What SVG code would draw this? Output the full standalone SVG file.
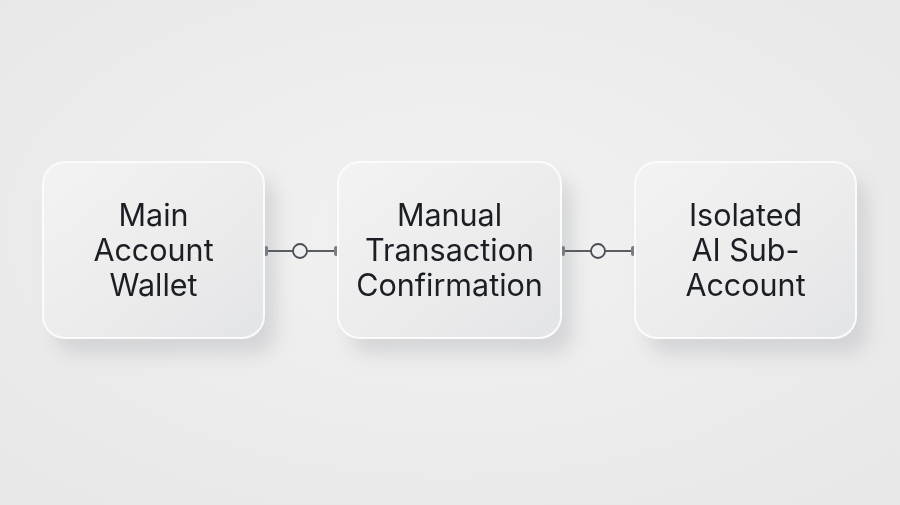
<svg xmlns="http://www.w3.org/2000/svg" width="900" height="505" viewBox="0 0 900 505">
<defs>
<radialGradient id="bg" cx="0.5" cy="0.45" r="0.75">
<stop offset="0" stop-color="#f2f2f2"/>
<stop offset="1" stop-color="#e7e7e8"/>
</radialGradient>
<linearGradient id="card" x1="0" y1="0" x2="1" y2="1">
<stop offset="0" stop-color="#f3f3f4"/>
<stop offset="0.6" stop-color="#ebebec"/>
<stop offset="1" stop-color="#e3e4e6"/>
</linearGradient>
<filter id="sh" x="-30%" y="-30%" width="160%" height="170%">
<feGaussianBlur stdDeviation="9"/>
</filter>
<filter id="glow" x="-50%" y="-200%" width="200%" height="500%">
<feGaussianBlur stdDeviation="3"/>
</filter>
<marker id="tick" viewBox="0 0 4 10" refX="2" refY="5" markerWidth="4" markerHeight="10" markerUnits="userSpaceOnUse" orient="auto">
<rect x="0" y="0" width="4" height="10" rx="2" fill="#7a7e84"/>
</marker>
</defs>
<style>
.card{fill:url(#card);stroke:#fbfbfc;stroke-width:2}
.shadow{fill:#bcbec1;opacity:0.5}
.lbl{font-family:Inter,"Noto Sans","Liberation Sans",sans-serif;font-size:30.5px;fill:#1b1e23;text-anchor:middle}
.wire{stroke:#5a5e64;stroke-width:2;fill:none}
.knob{fill:#eeeff0;stroke:#4a4e54;stroke-width:1.8}
.halo{stroke:#a4a8ae;stroke-width:6;opacity:0.45}
</style>
<rect width="900" height="505" fill="url(#bg)"/>
<g id="shadows" filter="url(#sh)">
<rect class="shadow" x="55" y="178" width="221" height="176" rx="22"/>
<rect class="shadow" x="350" y="178" width="223" height="176" rx="22"/>
<rect class="shadow" x="647" y="178" width="221" height="176" rx="22"/>
</g>
<g id="connectors">
<line class="halo" x1="248" y1="251" x2="350" y2="251" filter="url(#glow)"/>
<line class="halo" x1="546" y1="251" x2="648" y2="251" filter="url(#glow)"/>
<line class="wire" x1="266" y1="251" x2="293" y2="251" marker-start="url(#tick)"/>
<line class="wire" x1="307" y1="251" x2="336" y2="251" marker-end="url(#tick)"/>
<circle class="knob" cx="300" cy="251" r="7"/>
<line class="wire" x1="563" y1="251" x2="591" y2="251" marker-start="url(#tick)"/>
<line class="wire" x1="605" y1="251" x2="633" y2="251" marker-end="url(#tick)"/>
<circle class="knob" cx="598" cy="251" r="7"/>
</g>
<g id="node-main">
<rect class="card" x="43" y="162" width="221" height="176" rx="22"/>
<text class="lbl" x="153.5" y="226">Main</text>
<text class="lbl" x="153.5" y="261">Account</text>
<text class="lbl" x="153.5" y="296">Wallet</text>
</g>
<g id="node-manual">
<rect class="card" x="338" y="162" width="223" height="176" rx="22"/>
<text class="lbl" x="449.5" y="226">Manual</text>
<text class="lbl" x="449.5" y="261">Transaction</text>
<text class="lbl" x="449.5" y="296">Confirmation</text>
</g>
<g id="node-ai">
<rect class="card" x="635" y="162" width="221" height="176" rx="22"/>
<text class="lbl" x="745.5" y="226">Isolated</text>
<text class="lbl" x="745.5" y="261">AI Sub-</text>
<text class="lbl" x="745.5" y="296">Account</text>
</g>
</svg>
